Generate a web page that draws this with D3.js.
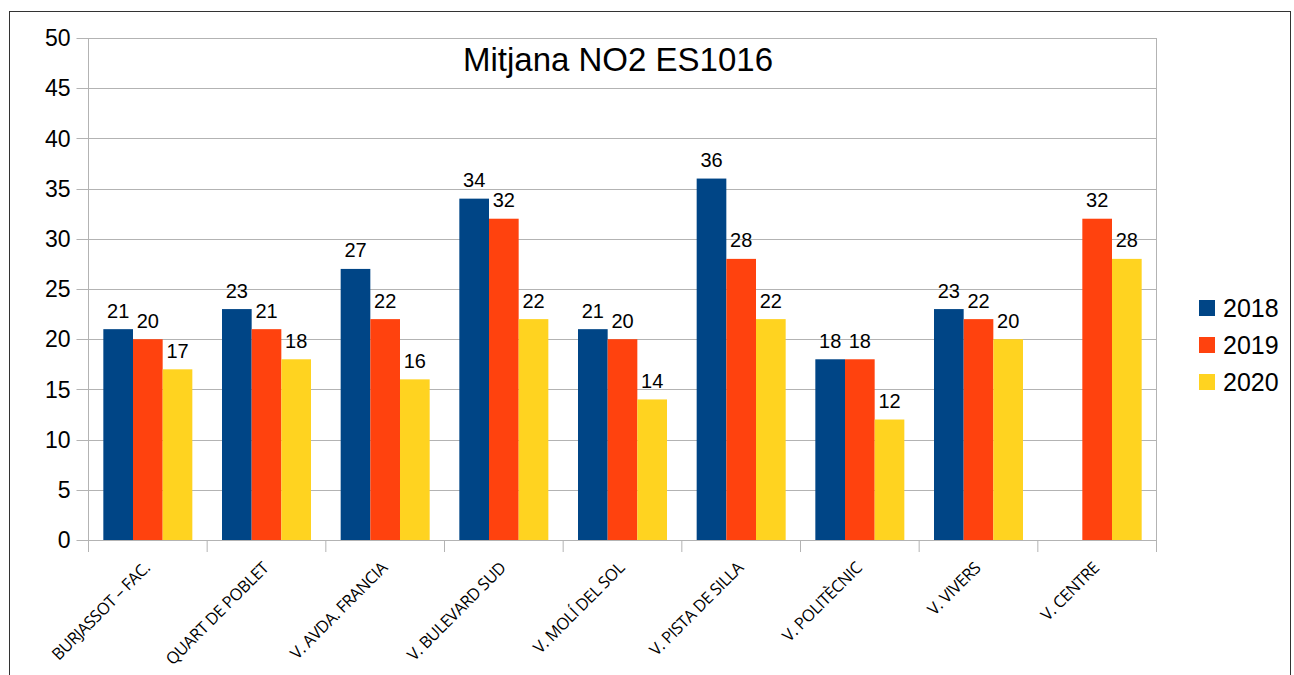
<!DOCTYPE html>
<html><head><meta charset="utf-8">
<script src="https://cdn.jsdelivr.net/npm/d3@7"></script>
<style>body{margin:0;background:#fff}svg{display:block}</style>
</head><body>
<script>
const categories = ["BURJASSOT – FAC.","QUART DE POBLET","V. AVDA. FRANCIA","V. BULEVARD SUD","V. MOLÍ DEL SOL","V. PISTA DE SILLA","V. POLITÈCNIC","V. VIVERS","V. CENTRE"];
const seriesNames = ["2018","2019","2020"];
const values2018 = [21,23,27,34,21,36,18,23,null];
const values2019 = [20,21,22,32,20,28,18,22,32];
const values2020 = [17,18,16,22,14,22,12,20,28];
const yTicks = [0,5,10,15,20,25,30,35,40,45,50];
const colors = ["#004586","#ff420e","#ffd320"];
const title = "Mitjana NO2 ES1016";

const W=1294,H=675;
const svg=d3.select("body").append("svg").attr("width",W).attr("height",H);
svg.append("rect").attr("x",9.5).attr("y",11.5).attr("width",1281).attr("height",700)
  .attr("fill","#fff").attr("stroke","#333");

const L=88.5,R=1156.5,T=38,B=540;
const x=d3.scaleBand().domain(categories).range([L,R]).paddingInner(0).paddingOuter(0);
const y=d3.scaleLinear().domain([0,50]).range([B,T]);
const xs=d3.scaleBand().domain(seriesNames).range([0,x.bandwidth()]).paddingInner(0).paddingOuter(0.5);

// grid
svg.append("g").selectAll("line").data(yTicks).join("line")
  .attr("x1",L-12).attr("x2",R).attr("y1",d=>Math.round(y(d))+0.5).attr("y2",d=>Math.round(y(d))+0.5)
  .attr("stroke","#b3b3b3");
// axes lines + x ticks
svg.append("line").attr("x1",L).attr("x2",L).attr("y1",T).attr("y2",B+12).attr("stroke","#b3b3b3");
svg.append("g").selectAll("line").data(categories).join("line")
  .attr("x1",d=>x(d)+x.bandwidth()).attr("x2",d=>x(d)+x.bandwidth())
  .attr("y1",B).attr("y2",B+12).attr("stroke","#b3b3b3");
svg.append("line").attr("x1",R).attr("x2",R).attr("y1",T).attr("y2",B).attr("stroke","#b3b3b3");

// y labels
svg.append("g").selectAll("text").data(yTicks).join("text")
  .attr("x",70.5).attr("y",d=>y(d)).attr("dy","0.36em").attr("text-anchor","end")
  .attr("font-family","Liberation Sans").attr("font-size",23).text(d=>d);

// bars
const data=[values2018,values2019,values2020];
seriesNames.forEach((s,si)=>{
  const g=svg.append("g");
  categories.forEach((c,ci)=>{
    const v=data[si][ci];
    if(v==null) return;
    const bx=x(c)+xs(s);
    g.append("rect").attr("x",bx).attr("y",y(v)).attr("width",xs.bandwidth()).attr("height",B-y(v)).attr("fill",colors[si]);
    g.append("text").attr("x",bx+xs.bandwidth()/2).attr("y",y(v)-11.5).attr("text-anchor","middle")
      .attr("font-family","Liberation Sans").attr("font-size",20).text(v);
  });
});

// x labels
svg.append("g").selectAll("text").data(categories).join("text")
  .attr("transform",d=>`translate(${x(d)+x.bandwidth()/2-1},${B+25}) rotate(-45)`)
  .attr("text-anchor","end").attr("dy","0.35em")
  .attr("font-family","Open Sans").attr("font-size",16.5).attr("letter-spacing","-0.5")
  .text(d=>d);

// title
svg.append("text").attr("x",618).attr("y",71).attr("text-anchor","middle")
  .attr("font-family","Liberation Sans").attr("font-size",33).text(title);

// legend
const lg=svg.append("g");
seriesNames.forEach((s,i)=>{
  const cy=308+i*37;
  lg.append("rect").attr("x",1199).attr("y",cy-8).attr("width",16).attr("height",16).attr("fill",colors[i]);
  lg.append("text").attr("x",1223).attr("y",cy).attr("dy","0.36em").attr("font-family","Liberation Sans").attr("font-size",25).text(s);
});
</script>
</body></html>
